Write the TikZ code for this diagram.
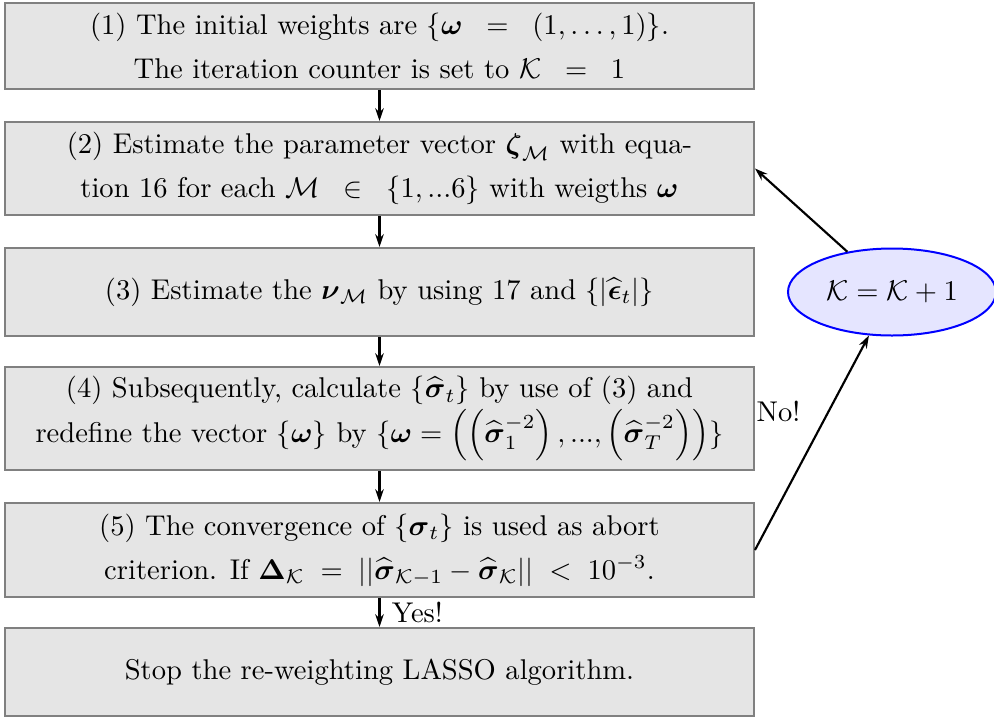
\documentclass[tikz,border=0pt]{standalone}
\usepackage{amsmath,amssymb}
\usetikzlibrary{arrows.meta,shapes.geometric}
\begin{document}
\begin{tikzpicture}[x=0.35pt,y=-0.35pt,
  stepbox/.style={draw=gray,line width=0.7pt,fill=black!10,minimum width=262.15pt,inner sep=0pt,align=center,font=\fontsize{10}{15.5}\selectfont},
  arr/.style={-{Stealth[length=4.5pt,width=3pt]},line width=0.75pt},
  loopnode/.style={ellipse,draw=blue,line width=0.7pt,fill=blue!10,minimum width=72.8pt,minimum height=30.45pt,inner sep=0pt,font=\fontsize{10}{12}\selectfont}]
\useasboundingbox (0,0) rectangle (994,717);
\node[stepbox,minimum height=30.1pt] (b1) at (379.5,46)
  {(1) The initial weights are $\{\boldsymbol{\omega}\;\;=\;\;(1,\ldots,1)\}$.\\
   The iteration counter is set to $\mathcal{K}\;\;=\;\;1$};
\node[stepbox,minimum height=32.55pt] (b2) at (379.5,168.5)
  {(2) Estimate the parameter vector $\boldsymbol{\zeta}_{\mathcal{M}}$ with equa-\\
   tion 16 for each $\mathcal{M}\;\;\in\;\;\{1,...6\}$ with weigths $\boldsymbol{\omega}$};
\node[stepbox,minimum height=30.8pt] (b3) at (379.5,292)
  {(3) Estimate the $\boldsymbol{\nu}_{\mathcal{M}}$ by using 17 and $\{|\widehat{\boldsymbol{\epsilon}}_t|\}$};
\node[stepbox,minimum height=36.05pt] (b4) at (379.5,418.5)
  {(4) Subsequently, calculate $\{\widehat{\boldsymbol{\sigma}}_t\}$ by use of (3) and\\
   redefine the vector $\{\boldsymbol{\omega}\}$ by $\{\boldsymbol{\omega}=\left(\left(\widehat{\boldsymbol{\sigma}}_1^{-2}\right),...,\left(\widehat{\boldsymbol{\sigma}}_T^{-2}\right)\right)\}$};
\node[stepbox,minimum height=32.9pt] (b5) at (379.5,550)
  {(5) The convergence of $\{\boldsymbol{\sigma}_t\}$ is used as abort\\
   criterion. If $\boldsymbol{\Delta}_{\mathcal{K}}\;=\;||\widehat{\boldsymbol{\sigma}}_{\mathcal{K}-1}-\widehat{\boldsymbol{\sigma}}_{\mathcal{K}}||\;<\;10^{-3}$.};
\node[stepbox,minimum height=30.8pt] (b6) at (379.5,672)
  {Stop the re-weighting LASSO algorithm.};
\node[loopnode] (k) at (892,292) {$\mathcal{K}=\mathcal{K}+1$};
\node[anchor=west,inner sep=0pt,font=\fontsize{10}{12}\selectfont] (no) at (756,411) {No!};
\draw[arr] (b1) -- (b2);
\draw[arr] (b2) -- (b3);
\draw[arr] (b3) -- (b4);
\draw[arr] (b4) -- (b5);
\draw[arr] (b5) -- node[right,inner sep=0pt,xshift=4pt,font=\fontsize{10}{12}\selectfont] (yes) {Yes!} (b6);
\draw[arr] (b5.east) -- (k);
\draw[arr] (k) -- (b2.east);
\end{tikzpicture}
\end{document}
